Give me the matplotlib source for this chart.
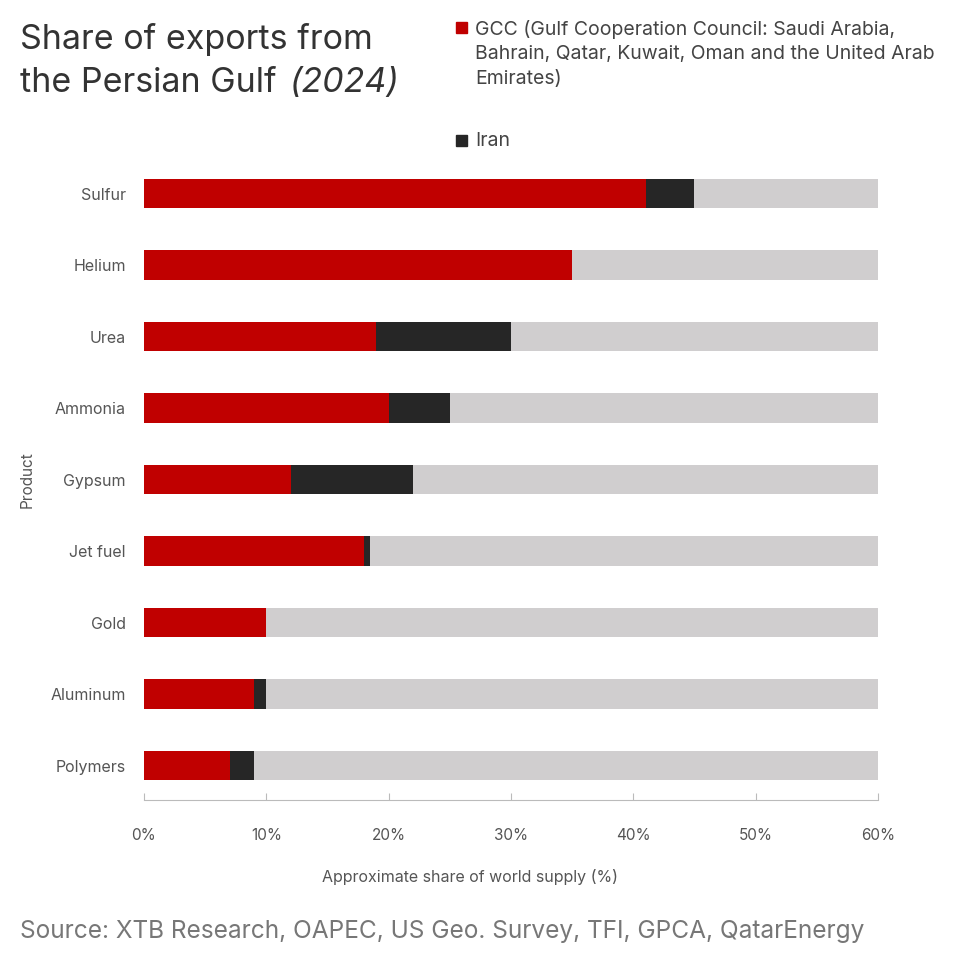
import matplotlib.pyplot as plt
import numpy as np

plt.rcParams['font.family'] = ['Inter', 'DejaVu Sans']

# Data (approximate share of world supply, %)
products = ['Sulfur', 'Helium', 'Urea', 'Ammonia', 'Gypsum',
            'Jet fuel', 'Gold', 'Aluminum', 'Polymers']
gcc = [41, 35, 19, 20, 12, 18, 10, 9, 7]
iran = [4, 0, 11, 5, 10, 0.5, 0, 1, 2]
axis_max = 60
xticks = [0, 10, 20, 30, 40, 50, 60]

red = '#C00000'
dark = '#262626'
gray = '#D0CECF'

fig = plt.figure(figsize=(9.72, 9.63), dpi=100)
ax = fig.add_axes([144 / 972, 1 - 800 / 963, (878 - 144) / 972, (800 - 157.75) / 963])

y = np.arange(len(products))
h = 0.41
ax.barh(y, [axis_max] * len(products), height=h, color=gray, zorder=1)
ax.barh(y, gcc, height=h, color=red, zorder=2)
ax.barh(y, iran, left=gcc, height=h, color=dark, zorder=2)

ax.set_ylim(8.48, -0.5)
ax.set_xlim(0, axis_max)
ax.set_yticks(y)
ax.set_yticklabels(products, fontsize=11.5, color='#555555')
ax.tick_params(axis='y', length=0, pad=13)
ax.set_xticks(xticks)
ax.set_xticklabels([f'{t}%' for t in xticks], fontsize=11, color='#555555')
ax.tick_params(axis='x', direction='in', length=5, width=0.8, color='#bbbbbb', pad=20)

for s in ['top', 'right', 'left']:
    ax.spines[s].set_visible(False)
ax.spines['bottom'].set_color('#bbbbbb')
ax.spines['bottom'].set_linewidth(0.8)

fig.text(27 / 972, 1 - 480 / 963, 'Product', rotation=90, ha='center', va='center',
         fontsize=11, color='#555555')
fig.text(470 / 972, 1 - 877 / 963, 'Approximate share of world supply (%)',
         ha='center', va='center', fontsize=11.5, color='#555555')

# Title
fig.text(20 / 972, 1 - 40 / 963, 'Share of exports from', fontsize=24.5,
         color='#333333', va='center')
t1 = fig.text(20 / 972, 1 - 83 / 963, 'the Persian Gulf', fontsize=24.5,
              color='#333333', va='center')
fig.canvas.draw()
bb = t1.get_window_extent()
fig.text((bb.x1 + 12) / 972, 1 - 83 / 963, '(2024)', fontsize=24.5, style='italic',
         color='#333333', va='center')

# Legend
fig.patches.append(plt.Rectangle((456 / 972, 1 - 33 / 963), 11 / 972, 11 / 963,
                                 transform=fig.transFigure, color=red))
fig.text(475 / 972, 1 - 20 / 963,
         'GCC (Gulf Cooperation Council: Saudi Arabia,\nBahrain, Qatar, Kuwait, Oman and the United Arab\nEmirates)',
         fontsize=14, color='#444444', va='top', ha='left', linespacing=1.45)
fig.patches.append(plt.Rectangle((456 / 972, 1 - 146 / 963), 11 / 972, 11 / 963,
                                 transform=fig.transFigure, color=dark))
fig.text(475 / 972, 1 - 141 / 963, 'Iran', fontsize=14, color='#444444', va='center')

# Source
fig.text(20 / 972, 1 - 931 / 963,
         'Source: XTB Research, OAPEC, US Geo. Survey, TFI, GPCA, QatarEnergy',
         fontsize=17.6, color='#777777', va='center')

fig.savefig('out.png', dpi=100)
